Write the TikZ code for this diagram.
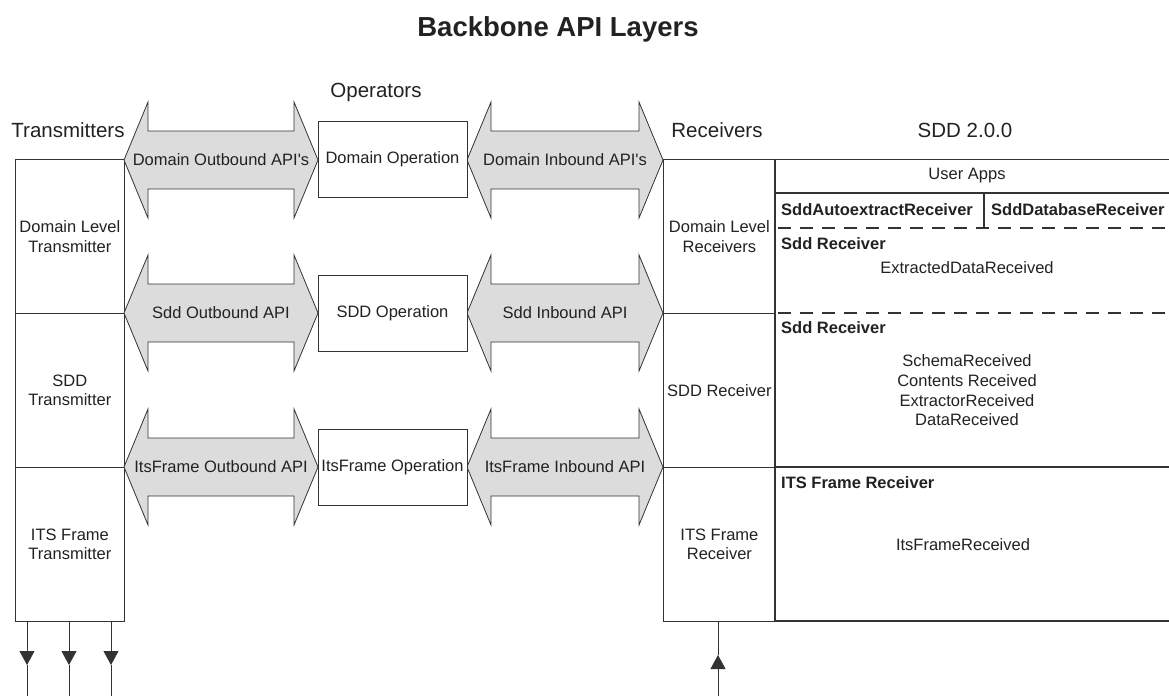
\documentclass[tikz,border=0pt]{standalone}
\usepackage{fontspec}
\setmainfont{Liberation Sans}
\usetikzlibrary{arrows.meta}
\definecolor{linec}{HTML}{333333}
\definecolor{txtc}{HTML}{222222}
\definecolor{arrfill}{HTML}{DCDCDC}
\begin{document}
\begin{tikzpicture}[x=1pt,y=-1pt,
  every node/.style={font=\fontsize{16.5}{19.7}\selectfont, text=txtc, inner sep=1pt},
  colbox/.style={draw=linec, line width=0.8pt, fill=white, align=center, inner sep=2pt, anchor=north west},
  tbox/.style={colbox, minimum width=109pt, minimum height=154pt},
  rbox/.style={colbox, minimum width=112pt, minimum height=154pt},
  opbox/.style={draw=linec, line width=0.8pt, fill=white, align=center, inner sep=2pt, minimum width=149pt, minimum height=76pt},
  head/.style={font=\fontsize{20.5}{24}\selectfont},
  bold/.style={font=\fontsize{16.5}{19.7}\selectfont\bfseries, anchor=west},
  arrowshape/.style={fill=arrfill, draw=linec, line width=0.8pt, line join=miter},
  thick line/.style={draw=linec, line width=2.2pt},
  dashline/.style={draw=linec, line width=2pt, dash pattern=on 13pt off 9pt},
  conn/.style={draw=linec, line width=0.8pt},
  tip/.style={-{Triangle[width=15pt,length=14pt]}, draw=linec, fill=black, line width=0.8pt}
]
\path[use as bounding box] (0,0) rectangle (1169,696);
\clip (0,0) rectangle (1169,696);

% double arrows macro: left tip x, right tip x, centre y
\newcommand{\dblarr}[3]{%
  \filldraw[arrowshape] (#1,#3) -- (#1+24,#3-58) -- (#1+24,#3-29) -- (#2-24,#3-29)
    -- (#2-24,#3-58) -- (#2,#3) -- (#2-24,#3+58) -- (#2-24,#3+29) -- (#1+24,#3+29)
    -- (#1+24,#3+58) -- cycle;}

% Title
\node[font=\fontsize{27.5}{32}\selectfont\bfseries] (title) at (558,29) {Backbone API Layers};

% Column headings
\node[head] (htx) at (68,130) {Transmitters};
\node[head] (hop) at (376,92) {Operators};
\node[head] (hrx) at (717,130) {Receivers};
\node[head] (hsdd) at (965,130) {SDD 2.0.0};

% Transmitters
\node[tbox] (t1) at (15,159) {Domain Level\\Transmitter};
\node[tbox] (t2) at (15,313) {SDD\\Transmitter};
\node[tbox] (t3) at (15,467) {ITS Frame\\Transmitter};

% Receivers
\node[rbox] (r1) at (663,159) {Domain Level\\Receivers};
\node[rbox] (r2) at (663,313) {SDD Receiver};
\node[rbox] (r3) at (663,467) {ITS Frame\\Receiver};

% Arrows (drawn before operation boxes)
\dblarr{124}{318}{160}
\dblarr{124}{318}{313}
\dblarr{124}{318}{467}
\dblarr{467}{663}{160}
\dblarr{467}{663}{313}
\dblarr{467}{663}{467}

\node (a1) at (221,160) {Domain Outbound API\textquotesingle s};
\node (a2) at (221,313) {Sdd Outbound API};
\node (a3) at (221,467) {ItsFrame Outbound API};
\node (b1) at (565,160) {Domain Inbound API\textquotesingle s};
\node (b2) at (565,313) {Sdd Inbound API};
\node (b3) at (565,467) {ItsFrame Inbound API};

% Operations
\node[opbox] (o1) at (392.5,159) {Domain Operation};
\node[opbox] (o2) at (392.5,313) {SDD Operation};
\node[opbox] (o3) at (392.5,467) {ItsFrame Operation};

% SDD 2.0.0 region
\draw[conn] (r1.north east) -- (1175,159);
\draw[thick line] (775,159) -- (775,621) -- (1175,621);
\draw[thick line] (775,193) -- (1175,193);
\draw[thick line] (775,467) -- (1175,467);
\draw[thick line] (984,193) -- (984,228);
\draw[dashline] (778,228) -- (1175,228);
\draw[dashline] (778,313) -- (1175,313);

\node (ua) at (967,176) {User Apps};
\node[bold] (sar) at (780,210) {SddAutoextractReceiver};
\node[bold] (sdr) at (990,210) {SddDatabaseReceiver};
\node[bold] (sr1) at (780,244) {Sdd Receiver};
\node (edr) at (967,268) {ExtractedDataReceived};
\node[bold] (sr2) at (780,328) {Sdd Receiver};
\node[align=center] (evs) at (967,390.5) {SchemaReceived\\Contents Received\\ExtractorReceived\\DataReceived};
\node[bold] (itr) at (780,483) {ITS Frame Receiver};
\node (ifr) at (963,545) {ItsFrameReceived};

% Transmitter outputs
\coordinate (e1) at (27,696);
\coordinate (e2) at (69,696);
\coordinate (e3) at (111,696);
\coordinate (m1) at (27,665);
\coordinate (m2) at (69,665);
\coordinate (m3) at (111,665);
\foreach \i in {1,2,3}{
  \draw[tip] (t3.south -| m\i) -- (m\i);
  \draw[conn] (m\i) -- (e\i);
}

% Receiver input
\coordinate (ri) at (718,696);
\coordinate (rm) at (718,655);
\draw[tip] (ri) -- (rm);
\draw[conn] (rm) -- (r3.south -| rm);
\end{tikzpicture}
\end{document}
